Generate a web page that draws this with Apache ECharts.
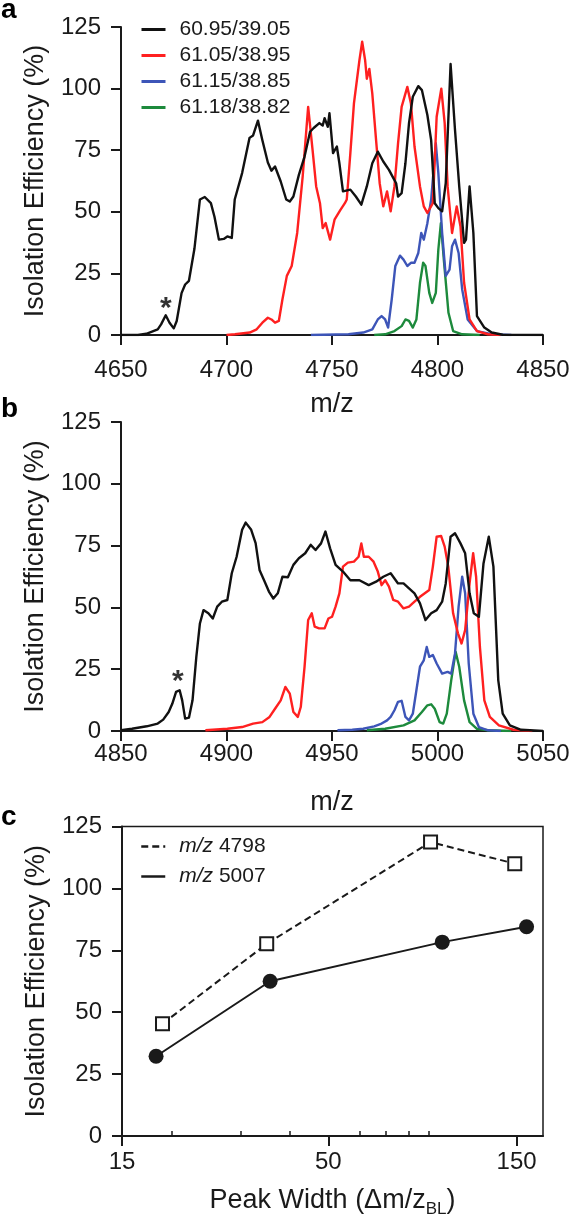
<!DOCTYPE html>
<html>
<head>
<meta charset="utf-8">
<title>Isolation Efficiency</title>
<script src="https://cdn.jsdelivr.net/npm/echarts@6/dist/echarts.min.js"></script>
<style>
  html, body { margin: 0; padding: 0; background: #fff; }
  #main { width: 576px; height: 1220px; }
</style>
</head>
<body>
<div id="main"></div>
<script>
// 面板 a：四个比例下的隔离效率谱 [m/z, %]
let namesAB = ['60.95/39.05', '61.05/38.95', '61.15/38.85', '61.18/38.82']
let colorsAB = ['#111111', '#ff2020', '#3d55b8', '#1d8a3c']

let blackA = [[4650,0],[4658,0],[4662,0.5],[4667.4,2.3],[4669,4.3],[4671.2,8],[4673,5],[4675,2.7],[4676.4,5.7],[4678.7,17],[4680.4,20.5],[4682.2,22],[4684.8,35],[4687.4,55],[4689.7,56],[4692.6,53.5],[4694.3,48],[4696.4,38.7],[4698.7,39],[4700.4,40],[4702.5,39.4],[4703.9,55],[4707.4,65.7],[4710.9,80],[4712.6,81],[4714.9,87],[4717,79],[4719.6,70],[4721.3,66.7],[4723,68.4],[4725.7,62.3],[4728.3,55],[4730,54.2],[4731.7,56.2],[4734.3,65],[4737,72.4],[4739.6,82.5],[4741.3,84],[4744,86],[4745.6,85],[4746.5,88],[4748,84.5],[4748.8,90],[4750.5,73.8],[4752.3,76.5],[4753.5,69.7],[4755.2,58.3],[4758.7,59],[4761.3,56.2],[4763.9,52.9],[4766.5,60.3],[4769.1,69.7],[4771.7,74.4],[4774.3,70.4],[4777,67],[4778.7,64.3],[4780.4,61.6],[4781.3,56.2],[4783,57.6],[4784.8,69.7],[4786.5,86],[4788.3,96.7],[4790.9,101],[4792.6,99.4],[4795.2,89.3],[4797,79],[4798.7,53.5],[4800.4,51.5],[4802.2,50.2],[4803.9,61.6],[4806.2,110],[4808.3,83.2],[4810.3,60.3],[4812.6,37.4],[4813.5,38.7],[4815.2,60.3],[4817,41.4],[4818.7,7.7],[4822.2,3],[4825.7,1],[4830.9,0.1],[4850,0]]
let redA = [[4700,0],[4704,0.3],[4711,1],[4714.3,2.3],[4717,5],[4719.6,7],[4721.3,6.3],[4723,5],[4724.8,5.7],[4726.5,14.4],[4728.6,24],[4730.9,28],[4733.5,41.4],[4736.1,64.3],[4738.7,92.6],[4740.8,75],[4742.5,60.3],[4744.3,53.5],[4745.6,43.4],[4747,45.4],[4749.1,38.7],[4751.2,46.8],[4754,50.8],[4756.1,53.5],[4757,55],[4758.7,73.8],[4760.4,94],[4763,111.5],[4764.3,119],[4765.7,111.5],[4766.5,104],[4767.7,108],[4769.1,98],[4770.9,79],[4772.6,61.6],[4774.3,52.2],[4776.1,58.3],[4777.8,50.2],[4779.6,60.3],[4781.3,77.8],[4783,92.6],[4785.7,100.7],[4787.4,94],[4789.1,76.5],[4791.7,60.3],[4793.5,52.2],[4795.2,49.5],[4797.8,53.5],[4799.6,88.6],[4801.8,100],[4803.4,86],[4804.8,60.3],[4806.9,41.4],[4809.1,52.2],[4810.9,44],[4812.6,21.2],[4815.2,6.3],[4818.7,1.6],[4823.9,0.3],[4830,0]]
let blueA = [[4740,0],[4757.8,0.3],[4764.8,1],[4769.1,2.3],[4771.7,6.3],[4773.5,7.7],[4775.2,6.3],[4776.6,3],[4778.3,14.4],[4780,28],[4782.2,32.2],[4783.9,30.6],[4785.7,28],[4787.4,29.3],[4789.1,29.3],[4790.9,33.3],[4792.3,41.4],[4793.5,38.7],[4795.2,45.4],[4797,55],[4799.2,77.8],[4800.4,65.7],[4802.2,41.4],[4803.9,24],[4805.7,26.5],[4806.9,36],[4808.3,38.7],[4810,33.3],[4811.7,18.5],[4814.3,6.3],[4818.7,1.6],[4825.7,0.3],[4835,0]]
let greenA = [[4770,0],[4775.2,0.3],[4779.6,1.6],[4783,3.6],[4784.8,6.3],[4786.5,5.7],[4788.3,3],[4790,6.3],[4791.7,21.2],[4793.2,29.3],[4794.3,28],[4796.1,17.1],[4797.5,13],[4799.2,17.1],[4800.4,34.7],[4801.6,45.4],[4803,30.6],[4805.2,9],[4807.4,1.6],[4811.7,0.3],[4820,0]]

// 面板 b
let blackB = [[4850,0.3],[4855.2,0.9],[4862.2,1.9],[4867.4,3],[4870,4.6],[4872.6,7.7],[4874.3,11],[4876.1,15.8],[4877.8,16.5],[4879,12.4],[4880.4,5],[4882.2,5.4],[4883.9,12.4],[4885.7,30],[4887.4,43.5],[4889.1,48.9],[4891.4,47.6],[4893.5,45.5],[4895.6,50.3],[4897.8,52.3],[4900.4,53],[4902.5,63.8],[4904.8,70.5],[4907.4,81.4],[4909.1,84.3],[4911.7,81.4],[4913.8,76],[4915.7,65],[4917.8,61],[4920.1,56.4],[4922.2,53.6],[4924.3,55.7],[4926.5,62.4],[4929.1,62.2],[4931.7,67.2],[4934.3,69.9],[4937.3,71.9],[4939.9,75.3],[4942.2,73.2],[4944.8,75.9],[4946.9,80.7],[4949.1,73.9],[4951.7,67.2],[4955.2,64.5],[4958.7,61],[4963,61],[4967.4,59],[4970.9,60.4],[4974.3,62.4],[4977.8,63.8],[4981.3,59.7],[4983.9,59.7],[4986.5,57.7],[4989.1,55.7],[4991.7,51.6],[4994.3,44.9],[4997,47.6],[4999.6,48.9],[5002.2,52.3],[5003.9,59.7],[5006.2,78.6],[5008.3,80],[5010.9,75.9],[5013.1,71.9],[5015.2,55.7],[5017.2,47.6],[5019.6,46.2],[5021.8,67.8],[5024.3,78.6],[5026.5,66.5],[5028.8,20.5],[5030.9,7],[5034.3,2.3],[5039.6,0.5],[5050,0]]
let redB = [[4890,0.3],[4900.4,0.9],[4907.4,1.6],[4912.6,3],[4917,3.6],[4920.4,5.7],[4923,9],[4925.7,12.4],[4927.9,17.8],[4930,15.1],[4931.7,7.7],[4933.8,5.7],[4935.2,9.7],[4937,26],[4938.7,44.9],[4940.4,47.6],[4941.8,42.2],[4943.9,41.5],[4946.5,41.5],[4948.3,45.5],[4950,46.2],[4951.7,50.3],[4953.5,55.7],[4955.2,66.5],[4957.5,68.1],[4960.4,68.5],[4962.6,70.5],[4963.9,75.9],[4965.1,70.5],[4967.4,70.5],[4969.7,68.5],[4971.7,64.5],[4973.5,59],[4975.2,61],[4977,58.4],[4979,53],[4981.3,52.3],[4983.9,49.6],[4986.5,50.3],[4989.1,52.3],[4991.7,54.3],[4994.3,55.9],[4996.1,57],[4997.8,66.5],[4999.6,78.6],[5001.7,78.9],[5003.4,74.6],[5005.1,66.5],[5007.4,47.6],[5009.7,39.5],[5011.4,35.4],[5013.1,40.8],[5015.2,59.7],[5016.9,71.9],[5018.3,62.4],[5020.1,34],[5022.2,12.4],[5024.8,5.7],[5029.1,2.3],[5036,0.5],[5045,0]]
let blueB = [[4952.6,0.3],[4959.6,0.5],[4964.8,0.9],[4970,1.9],[4973.5,3],[4976.1,4.3],[4977.8,5.7],[4979.6,8.4],[4981.3,11.8],[4983,12.2],[4984.8,5.7],[4986.5,4.3],[4988.3,7],[4990,16.5],[4991.7,26],[4993.5,28.6],[4994.9,34],[4996.1,30],[4997.8,30.7],[4999.6,27.3],[5002.2,23.2],[5004.8,23.9],[5006.5,23.2],[5008.3,31.4],[5010,50.3],[5011.7,62.4],[5013.1,55.7],[5014.8,27.3],[5017,7],[5019.6,1.6],[5023.9,0.3],[5030,0]]
let greenB = [[4966.5,0.3],[4975.2,0.9],[4983.9,2.3],[4989.1,4.3],[4992.6,7.7],[4995.2,10.4],[4997,10.8],[4998.7,9],[5001,3.6],[5002.7,3],[5004.4,7],[5006.5,20.5],[5008.6,32],[5010.3,26],[5012.6,12.4],[5015.2,3.6],[5018.7,0.9],[5023.9,0.3],[5035,0]]

// 星号标注的位置
let starA = [[4671.2, 13.5]]
let starB = [[4876.9, 22.7]]

// 面板 c：峰宽 vs 隔离效率
let namesC = ['m/z 4798', 'm/z 5007']
let width4798 = [19, 34.9, 90.8, 148.4]
let eff4798 = [45.3, 77.6, 118.7, 110]
let width5007 = [18.3, 35.6, 97.2, 159]
let eff5007 = [32.2, 62.5, 78.3, 84.5]
let logLabels = [15, 50, 150]
let logMinorTicks = [20, 30, 40, 60, 70, 80, 90]
let yTicks = { min: 0, max: 125, interval: 25 }

let font = 'Liberation Sans, Arial, Helvetica, sans-serif'
let ink = '#1a1a1a'

function zip(xs, ys) {
  return xs.map((x, i) => [x, ys[i]])
}

// 公共坐标轴样式
function axisBase(margin) {
  return {
    axisLine: { show: true, onZero: false, lineStyle: { color: ink, width: 2 } },
    axisTick: { show: true, inside: false, length: 10, lineStyle: { color: ink, width: 2 } },
    axisLabel: { fontSize: 24, color: ink, fontFamily: font, margin: margin || 16, formatter: (v) => String(v) },
    splitLine: { show: false },
    nameTextStyle: { fontSize: 27, color: ink, fontFamily: font },
  }
}

function mzAxis(grid, min, max, gap, margin) {
  return Object.assign(axisBase(margin), {
    gridIndex: grid,
    type: 'value',
    min,
    max,
    interval: 50,
    name: 'm/z',
    nameLocation: 'middle',
    nameGap: gap,
  })
}

function effAxis(grid) {
  return Object.assign(axisBase(20), {
    gridIndex: grid,
    type: 'value',
    min: yTicks.min,
    max: yTicks.max,
    interval: yTicks.interval,
    name: 'Isolation Efficiency (%)',
    nameLocation: 'middle',
    nameRotate: 90,
    nameGap: 72,
  })
}

function spectrum(data, i, axis) {
  return {
    type: 'line',
    name: namesAB[i],
    xAxisIndex: axis,
    yAxisIndex: axis,
    data,
    symbol: 'none',
    showSymbol: false,
    smooth: false,
    color: colorsAB[i],
    lineStyle: { width: 2.4, color: colorsAB[i], join: 'round' },
    z: 10 - i,
  }
}

function star(data, axis) {
  return {
    type: 'scatter',
    xAxisIndex: axis,
    yAxisIndex: axis,
    data,
    symbolSize: 1,
    itemStyle: { color: 'transparent' },
    label: {
      show: true,
      position: 'inside',
      formatter: '*',
      fontSize: 30,
      fontWeight: 'bold',
      color: '#000',
      fontFamily: font,
      offset: [0, 7],
    },
    silent: true,
  }
}

let logBase = Object.assign(axisBase(14), {
  gridIndex: 2,
  type: 'log',
  logBase: 10,
  min: 15,
  max: 175,
})

let myChart = echarts.init(document.getElementById('main'), null, { renderer: 'canvas' })

let option = {
  animation: false,
  backgroundColor: '#fff',
  textStyle: { fontFamily: font },
  grid: [
    { left: 121, right: 33, top: 27, height: 308, outerBoundsMode: 'none' },
    { left: 121, right: 33, top: 422, height: 309, outerBoundsMode: 'none' },
    { left: 122, right: 33, top: 826.5, height: 309.5, outerBoundsMode: 'none', show: true, borderColor: ink, borderWidth: 1.5, backgroundColor: 'transparent' },
  ],
  xAxis: [
    mzAxis(0, 4650, 4850, 56, 23),
    mzAxis(1, 4850, 5050, 58, 11),
    Object.assign({}, logBase, {
      axisLabel: { fontSize: 24, color: ink, fontFamily: font, margin: 14, customValues: logLabels },
      axisTick: { show: true, inside: false, length: 10, lineStyle: { color: ink, width: 2 }, customValues: logLabels },
      name: '{n|Peak Width (Δm/z}{s|BL}{n|)}',
      nameLocation: 'middle',
      nameGap: 48,
      nameTextStyle: {
        rich: {
          n: { fontSize: 27, color: ink, fontFamily: font, lineHeight: 34 },
          s: { fontSize: 17, color: ink, fontFamily: font, lineHeight: 34, verticalAlign: 'bottom', padding: [12, 0, 0, 0] },
        },
      },
    }),
    Object.assign({}, logBase, {
      axisLine: { show: false },
      axisLabel: { show: false },
      axisTick: { show: true, inside: false, length: 5, lineStyle: { color: ink, width: 1.5 }, customValues: logMinorTicks },
    }),
  ],
  yAxis: [effAxis(0), effAxis(1), effAxis(2)],
  legend: [
    {
      data: namesAB,
      orient: 'vertical',
      left: 135,
      top: 14,
      itemWidth: 24,
      itemHeight: 14,
      itemGap: 5,
      itemStyle: { opacity: 0 },
      lineStyle: { width: 3 },
      textStyle: { fontSize: 21, color: ink, fontFamily: font, padding: [0, 0, 0, 9] },
      selectedMode: false,
    },
    {
      data: namesC,
      orient: 'vertical',
      left: 135,
      top: 831,
      itemWidth: 24,
      itemHeight: 14,
      itemGap: 9,
      itemStyle: { opacity: 0 },
      lineStyle: { width: 2.5 },
      formatter: (name) => '{i|m/z}' + name.slice(3),
      textStyle: {
        fontSize: 21,
        color: ink,
        fontFamily: font,
        padding: [0, 0, 0, 9],
        rich: { i: { fontSize: 21, fontStyle: 'italic', color: ink, fontFamily: font } },
      },
      selectedMode: false,
    },
  ],
  series: [
    spectrum(blackA, 0, 0),
    spectrum(redA, 1, 0),
    spectrum(blueA, 2, 0),
    spectrum(greenA, 3, 0),
    star(starA, 0),
    spectrum(blackB, 0, 1),
    spectrum(redB, 1, 1),
    spectrum(blueB, 2, 1),
    spectrum(greenB, 3, 1),
    star(starB, 1),
    {
      type: 'line',
      name: namesC[0],
      xAxisIndex: 2,
      yAxisIndex: 2,
      data: zip(width4798, eff4798),
      symbol: 'rect',
      symbolSize: 13,
      showSymbol: true,
      color: ink,
      itemStyle: { color: '#fff', borderColor: ink, borderWidth: 2 },
      lineStyle: { color: ink, width: 2, type: [7, 4] },
      z: 5,
    },
    {
      type: 'line',
      name: namesC[1],
      xAxisIndex: 2,
      yAxisIndex: 2,
      data: zip(width5007, eff5007),
      symbol: 'circle',
      symbolSize: 15,
      showSymbol: true,
      color: ink,
      itemStyle: { color: ink },
      lineStyle: { color: ink, width: 2 },
      z: 6,
    },
  ],
  // 面板字母
  graphic: [
    { type: 'text', left: 1, top: -4, style: { text: 'a', font: 'bold 28px ' + font, fill: '#000' } },
    { type: 'text', left: 1, top: 395, style: { text: 'b', font: 'bold 28px ' + font, fill: '#000' } },
    { type: 'text', left: 1, top: 803, style: { text: 'c', font: 'bold 28px ' + font, fill: '#000' } },
  ],
}

myChart.setOption(option)
</script>
</body>
</html>
